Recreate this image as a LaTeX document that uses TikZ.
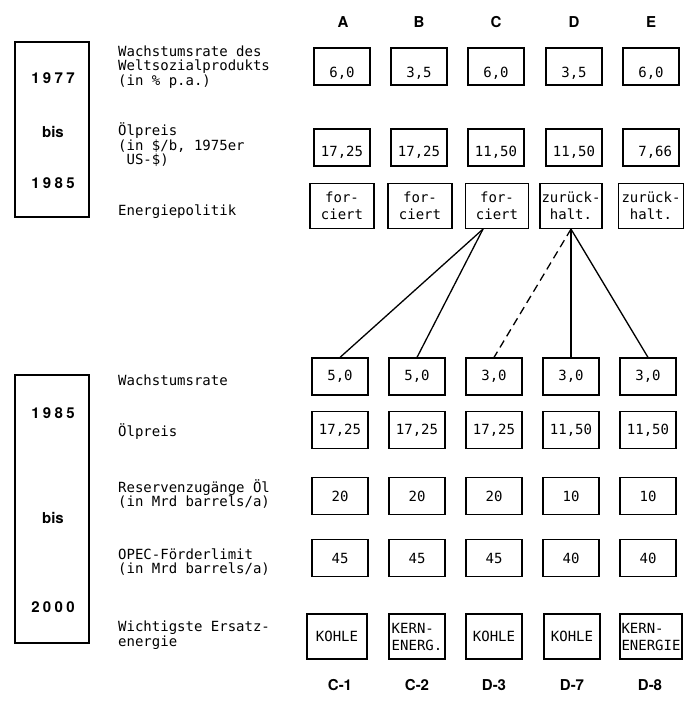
\documentclass[tikz,border=0pt]{standalone}
\usepackage{fontspec}
\setmonofont{DejaVu Sans Mono}
\setsansfont{TeX Gyre Heros}
\newfontfamily\jahrfont[LetterSpace=22]{TeX Gyre Heros}
\usetikzlibrary{calc}

\newcommand{\tippfont}{\ttfamily\fontsize{14}{14.5}\selectfont}
\newcommand{\kopffont}{\sffamily\bfseries\fontsize{15}{15}\selectfont}

\tikzset{
  wert/.style={draw, line width=1.2pt, minimum width=56pt, minimum height=37pt,
               inner sep=1.5pt, align=center,
               font=\ttfamily\fontsize{14}{17}\selectfont},
  doppel/.style={minimum height=45pt},
  tief/.style={text height=21pt, text depth=0pt},
  halbtief/.style={text height=18pt, text depth=0pt},
  beschr/.style={anchor=west, align=left, inner sep=0pt, font=\tippfont},
  zeitraum/.style={draw, line width=1.2pt, minimum width=74pt, inner sep=0pt},
  jahr/.style={font=\jahrfont\bfseries\fontsize{15}{15}\selectfont},
  spalte/.style={font=\kopffont},
  ast/.style={line width=1.3pt}
}

\begin{document}
\begin{tikzpicture}[x=1pt, y=-1pt]
  \useasboundingbox (0,0) rectangle (692,713);

  % Spaltenkoepfe
  \node[spalte] (kopfA) at (343,22) {A};
  \node[spalte] (kopfB) at (419,22) {B};
  \node[spalte] (kopfC) at (496,22) {C};
  \node[spalte] (kopfD) at (574,22) {D};
  \node[spalte] (kopfE) at (651,22) {E};

  % Zeitraum 1977 bis 1985
  \node[zeitraum, minimum height=175pt] (zeit1) at (52,129.5) {};
  \node[jahr] (j1977) at (53,78) {1977};
  \node[jahr, font=\sffamily\bfseries\fontsize{15}{15}\selectfont] (bis1) at (53,132) {bis};
  \node[jahr] (j1985a) at (53,183) {1985};

  \node[beschr] (lwachs1) at (118,67) {Wachstumsrate des\\Weltsozialprodukts\\(in \% p.a.)};
  \node[beschr] (loel1) at (118,145) {Ölpreis\\(in \$/b, 1975er\\\ US-\$)};
  \node[beschr] (lpolitik) at (118,212) {Energiepolitik};

  \node[wert, tief] (w1A) at (342,66.5) {6,0};
  \node[wert, tief] (w1B) at (419,66.5) {3,5};
  \node[wert, tief] (w1C) at (496,66.5) {6,0};
  \node[wert, tief] (w1D) at (574,66.5) {3,5};
  \node[wert, tief] (w1E) at (651,66.5) {6,0};

  \node[wert, halbtief] (p1A) at (342,147.5) {17,25};
  \node[wert, halbtief] (p1B) at (419,147.5) {17,25};
  \node[wert, halbtief] (p1C) at (496,147.5) {11,50};
  \node[wert, halbtief] (p1D) at (574,147.5) {11,50};
  \node[wert, halbtief] (p1E) at (651,147.5) {\ 7,66};

  \node[wert, doppel, minimum width=64pt] (eA) at (342,206) {for-\\ciert};
  \node[wert, doppel, minimum width=64pt] (eB) at (420,206) {for-\\ciert};
  \node[wert, doppel, minimum width=63pt] (eC) at (497,206) {for-\\ciert};
  \node[wert, doppel] (eD) at (571,206) {zurück-\\halt.};
  \node[wert, doppel, minimum width=65pt] (eE) at (651,206) {zurück-\\halt.};

  % Zeitraum 1985 bis 2000
  \node[zeitraum, minimum height=268pt] (zeit2) at (52,509) {};
  \node[jahr] (j1985b) at (53,413) {1985};
  \node[jahr, font=\sffamily\bfseries\fontsize{15}{15}\selectfont] (bis2) at (53,518) {bis};
  \node[jahr] (j2000) at (53,607) {2000};

  \node[beschr] (lwachs2) at (118,380) {Wachstumsrate};
  \node[beschr] (loel2) at (118,432) {Ölpreis};
  \node[beschr] (lreserve) at (118,494) {Reservenzugänge Öl\\(in Mrd barrels/a)};
  \node[beschr] (lopec) at (118,562) {OPEC-Förderlimit\\(in Mrd barrels/a)};
  \node[beschr] (lersatz) at (118,635) {Wichtigste Ersatz-\\energie};

  \node[wert] (w2A) at (340,376.5) {5,0};
  \node[wert] (w2B) at (417,376.5) {5,0};
  \node[wert] (w2C) at (494,376.5) {3,0};
  \node[wert] (w2D) at (571,376.5) {3,0};
  \node[wert] (w2E) at (648,376.5) {3,0};

  \node[wert] (p2A) at (340,430) {17,25};
  \node[wert] (p2B) at (417,430) {17,25};
  \node[wert] (p2C) at (494,430) {17,25};
  \node[wert] (p2D) at (571,430) {11,50};
  \node[wert] (p2E) at (648,430) {11,50};

  \node[wert] (rA) at (340,496) {20};
  \node[wert] (rB) at (417,496) {20};
  \node[wert] (rC) at (494,496) {20};
  \node[wert] (rD) at (571,496) {10};
  \node[wert] (rE) at (648,496) {10};

  \node[wert] (oA) at (340,558) {45};
  \node[wert] (oB) at (417,558) {45};
  \node[wert] (oC) at (494,558) {45};
  \node[wert] (oD) at (571,558) {40};
  \node[wert] (oE) at (648,558) {40};

  \node[wert, doppel, minimum width=60pt] (sA) at (337,636.5) {KOHLE};
  \node[wert, doppel, align=left] (sB) at (417,636.5) {KERN-\\ENERG.};
  \node[wert, doppel] (sC) at (494,636.5) {KOHLE};
  \node[wert, doppel] (sD) at (572,636.5) {KOHLE};
  \node[wert, doppel, align=left] (sE) at (651,636.5) {KERN-\\ENERGIE};

  % Szenarien
  \node[spalte] (fallA) at (340,685) {C-1};
  \node[spalte] (fallB) at (417,685) {C-2};
  \node[spalte] (fallC) at (494,685) {D-3};
  \node[spalte] (fallD) at (572,685) {D-7};
  \node[spalte] (fallE) at (650,685) {D-8};

  % Verzweigungen
  \coordinate (knotenC) at ($(eC.south)+(-14,0)$);
  \draw[ast] (knotenC) -- (w2A.north);
  \draw[ast] (knotenC) -- (w2B.north);
  \draw[ast, dash pattern=on 8pt off 5pt] (eD.south) -- (w2C.north);
  \draw[ast] (eD.south) -- (w2D.north);
  \draw[ast] (eD.south) -- (w2E.north);
\end{tikzpicture}
\end{document}
